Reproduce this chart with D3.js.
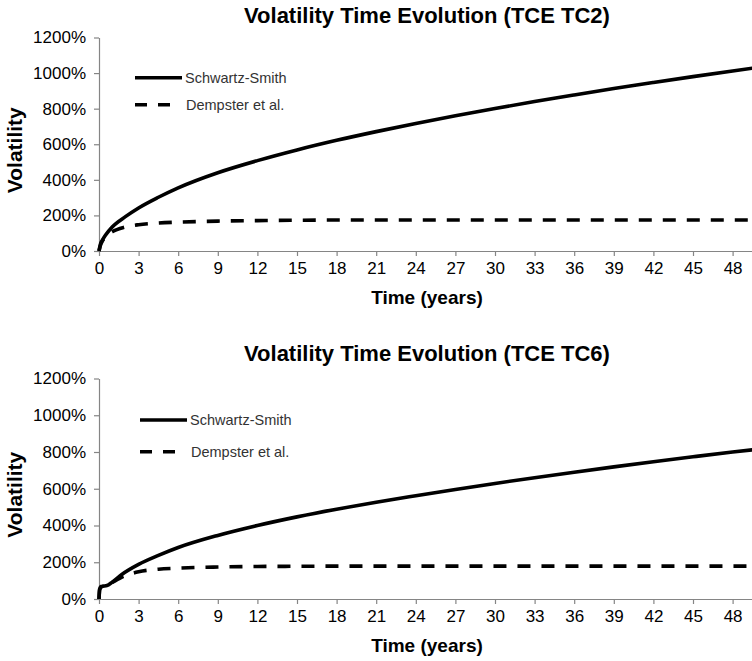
<!DOCTYPE html>
<html>
<head>
<meta charset="utf-8">
<script src="https://cdn.jsdelivr.net/npm/d3@7"></script>
<style>
  html, body { margin: 0; padding: 0; background: #fff; }
  svg { display: block; }
  text { font-family: "Liberation Sans", Arial, sans-serif; }
</style>
</head>
<body>
<svg id="chart" width="752" height="661"></svg>
<script>
// ---------- data ----------
const titles = ["Volatility Time Evolution (TCE TC2)", "Volatility Time Evolution (TCE TC6)"];
const seriesNames = ["Schwartz-Smith", "Dempster et al."];
const xTicks = [0, 3, 6, 9, 12, 15, 18, 21, 24, 27, 30, 33, 36, 39, 42, 45, 48];
const yTicks = [0, 200, 400, 600, 800, 1000, 1200];

// TC2 panel
const timeTC2 = [0, 0.1, 0.25, 0.5, 1, 2, 3, 4.5, 6, 9, 12, 15, 18, 21, 24, 27, 30, 33, 36, 39, 42, 45, 48, 50];
const schwartzTC2 = [0, 36, 60, 90, 135, 193, 242, 302, 355, 440, 508, 568, 622, 671, 717, 760, 801, 840, 877, 913, 947, 980, 1012, 1033];
const dempsterTC2 = [0, 30, 55, 80, 108, 135, 148, 157, 162, 168, 171, 173, 174, 174, 174, 174, 174, 174, 174, 174, 174, 174, 174, 174];

// TC6 panel
const timeTC6 = [0, 0.05, 0.15, 0.3, 0.6, 1, 1.7, 3, 4.5, 6, 9, 12, 15, 18, 21, 24, 27, 30, 33, 36, 39, 42, 45, 48, 50];
const schwartzTC6 = [0, 55, 68, 70, 73, 92, 132, 188, 237, 280, 346, 400, 447, 489, 527, 562, 596, 629, 660, 690, 719, 747, 774, 800, 816];
const dempsterTC6 = [0, 50, 62, 66, 72, 90, 118, 148, 162, 168, 174, 177, 178, 179, 179, 179, 179, 179, 179, 179, 179, 179, 179, 179, 179];

// ---------- layout ----------
const panels = [
  { title: titles[0], t: timeTC2, ss: schwartzTC2, dm: dempsterTC2,
    y0: 251, y1: 37.5, titleY: 23, legendX: 135, legendY: 77.7, legendGap: 27 },
  { title: titles[1], t: timeTC6, ss: schwartzTC6, dm: dempsterTC6,
    y0: 599, y1: 378.5, titleY: 361, legendX: 140, legendY: 420, legendGap: 31.7 }
];

const svg = d3.select("#chart");
const x = d3.scaleLinear().domain([0, 50]).range([99, 759]);
const axisColor = "#858585";

panels.forEach(p => {
  const g = svg.append("g");
  const y = d3.scaleLinear().domain([0, 1200]).range([p.y0, p.y1]);

  // title
  g.append("text").attr("x", 427).attr("y", p.titleY)
    .attr("text-anchor", "middle").attr("font-size", 22).attr("font-weight", "bold")
    .attr("fill", "#000").text(p.title);

  // y axis
  const yAxis = g.append("g").attr("transform", `translate(${x(0)},0)`)
    .call(d3.axisLeft(y).tickValues(yTicks).tickSize(5).tickSizeOuter(0).tickPadding(8)
      .tickFormat(d => d + "%"));
  yAxis.select(".domain").attr("stroke", axisColor).attr("stroke-width", 1.2);
  yAxis.selectAll(".tick line").attr("stroke", axisColor).attr("stroke-width", 1.2);
  yAxis.selectAll(".tick text").attr("font-size", 17).attr("fill", "#000")
    .attr("font-family", "Liberation Sans, Arial, sans-serif");

  // x axis
  const xAxis = g.append("g").attr("transform", `translate(0,${p.y0})`)
    .call(d3.axisBottom(x).tickValues(xTicks).tickSize(5).tickSizeOuter(0).tickPadding(6)
      .tickFormat(d3.format("d")));
  xAxis.select(".domain").attr("stroke", axisColor).attr("stroke-width", 1.2);
  xAxis.selectAll(".tick line").attr("stroke", axisColor).attr("stroke-width", 1.2);
  xAxis.selectAll(".tick text").attr("font-size", 17).attr("fill", "#000")
    .attr("font-family", "Liberation Sans, Arial, sans-serif");

  // axis titles
  g.append("text").attr("x", 427).attr("y", p.y0 + 53)
    .attr("text-anchor", "middle").attr("font-size", 19).attr("font-weight", "bold")
    .text("Time (years)");
  g.append("text")
    .attr("transform", `translate(22,${(p.y0 + p.y1) / 2 + 6}) rotate(-90)`)
    .attr("text-anchor", "middle").attr("font-size", 21).attr("font-weight", "bold")
    .text("Volatility");

  // lines
  const line = d3.line().x(d => x(d[0])).y(d => y(d[1])).curve(d3.curveMonotoneX);
  const ssData = p.t.map((t, i) => [t, p.ss[i]]);
  const dmData = p.t.map((t, i) => [t, p.dm[i]]);

  g.append("path").datum(dmData).attr("d", line)
    .attr("fill", "none").attr("stroke", "#000").attr("stroke-width", 3.6)
    .attr("stroke-dasharray", "13,11");
  g.append("path").datum(ssData).attr("d", line)
    .attr("fill", "none").attr("stroke", "#000").attr("stroke-width", 3.6);

  // legend
  const lg = g.append("g");
  lg.append("line").attr("x1", p.legendX).attr("x2", p.legendX + 47)
    .attr("y1", p.legendY).attr("y2", p.legendY)
    .attr("stroke", "#000").attr("stroke-width", 3.6);
  lg.append("text").attr("x", p.legendX + 50).attr("y", p.legendY + 5)
    .attr("font-size", 14.5).attr("fill", "#333").text(seriesNames[0]);
  lg.append("line").attr("x1", p.legendX).attr("x2", p.legendX + 37)
    .attr("y1", p.legendY + p.legendGap).attr("y2", p.legendY + p.legendGap)
    .attr("stroke", "#000").attr("stroke-width", 3.6).attr("stroke-dasharray", "12,11");
  lg.append("text").attr("x", p.legendX + 51).attr("y", p.legendY + p.legendGap + 5)
    .attr("font-size", 14.5).attr("fill", "#333").text(seriesNames[1]);
});
</script>
</body>
</html>
